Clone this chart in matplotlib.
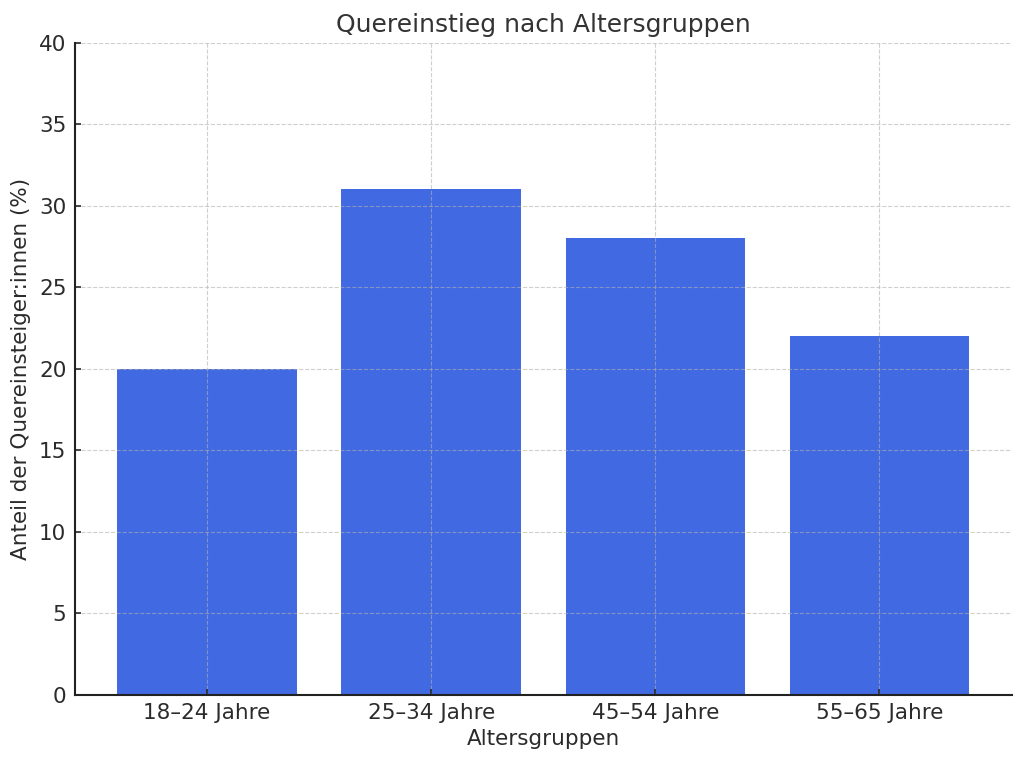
import matplotlib
matplotlib.use("Agg")
import matplotlib.pyplot as plt

categories = ["18–24 Jahre", "25–34 Jahre", "45–54 Jahre", "55–65 Jahre"]
values = [20, 31, 28, 22]

TEXT = "#2b2b2b"

fig, ax = plt.subplots(figsize=(10.24, 7.65), dpi=100)
ax.bar(categories, values, color="#4169e1", width=0.8, zorder=1)

ax.set_ylim(0, 40)
ax.set_title("Quereinstieg nach Altersgruppen", fontsize=18, color="#333333", pad=8)
ax.set_xlabel("Altersgruppen", fontsize=15.5, color=TEXT, labelpad=4)
ax.set_ylabel("Anteil der Quereinsteiger:innen (%)", fontsize=15.5, color=TEXT, labelpad=6)
ax.tick_params(labelsize=15.5, colors=TEXT, direction="in", length=4, width=1.2, pad=6)
ax.grid(True, linestyle="--", color="#b0b0b0", alpha=0.6, linewidth=0.8, zorder=2)
for side in ("top", "right"):
    ax.spines[side].set_visible(False)
for side in ("left", "bottom"):
    ax.spines[side].set_color("#222222")
    ax.spines[side].set_linewidth(1.5)

fig.subplots_adjust(left=0.073, right=0.988, top=0.944, bottom=0.092)
fig.savefig("out.png", dpi=100)
